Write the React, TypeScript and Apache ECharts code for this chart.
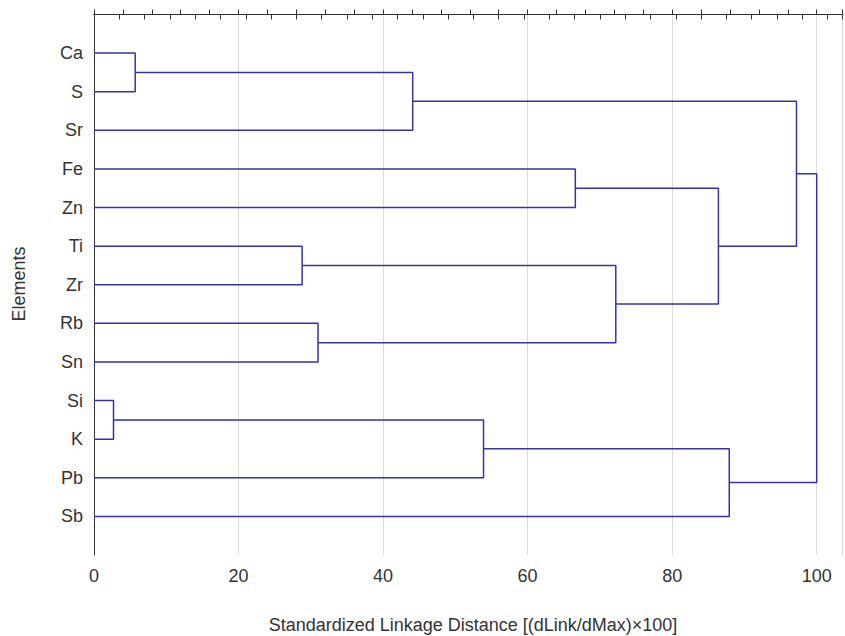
import React, { useEffect, useRef } from "react";
import * as echarts from "echarts";

// Leaves, top to bottom
const leaves = ["Ca", "S", "Sr", "Fe", "Zn", "Ti", "Zr", "Rb", "Sn", "Si", "K", "Pb", "Sb"];

// Merges (linkage): members are leaf names or cluster ids "c0".."c11"
const mergeA = ["Ca", "Si", "Ti", "Rb", "c0", "c1", "Fe", "c2", "c6", "c5", "c4", "c10"];
const mergeB = ["S", "K", "Zr", "Sn", "Sr", "Pb", "Zn", "c3", "c7", "Sb", "c8", "c9"];
const mergeHeight = [5.7, 2.7, 28.8, 31.0, 44.1, 53.9, 66.6, 72.2, 86.4, 87.9, 97.2, 100];

const xTicks = [0, 20, 40, 60, 80, 100];

const LINE_COLOR = "#3535A0";
const FONT = "'Liberation Sans', Arial, sans-serif";
const FS = 18;

function buildSeries() {
  const pos: Record<string, { x: number; y: number }> = {};
  leaves.forEach((l, i) => {
    pos[l] = { x: 0, y: i + 1 };
  });
  const series: any[] = [];
  mergeHeight.forEach((h, i) => {
    const a = pos[mergeA[i]];
    const b = pos[mergeB[i]];
    pos["c" + i] = { x: h, y: (a.y + b.y) / 2 };
    series.push({
      type: "line",
      xAxisIndex: 0,
      yAxisIndex: 0,
      symbol: "none",
      silent: true,
      lineStyle: { color: LINE_COLOR, width: 1.5 },
      data: [
        [a.x, a.y],
        [h, a.y],
        [h, b.y],
        [b.x, b.y],
      ],
    });
  });
  return series;
}

export default function App() {
  const ref = useRef<HTMLDivElement>(null);
  useEffect(() => {
    if (!ref.current) return;
    const chart = echarts.init(ref.current, undefined, { renderer: "svg" });
    chart.setOption({
      animation: false,
      backgroundColor: "#ffffff",
      grid: { left: 94, right: 0, top: 14.5, bottom: 81, containLabel: false },
      xAxis: [
        {
          type: "value",
          position: "bottom",
          min: 0,
          max: 103.5,
          interval: 20,
          axisLine: { show: true, lineStyle: { color: "#333", width: 1 } },
          axisTick: { show: true, inside: true, length: 5, lineStyle: { color: "#333" } },
          minorTick: { show: true, splitNumber: 5, length: 5, lineStyle: { color: "#333" } },
          splitLine: { show: true, lineStyle: { color: "#dcdcdc", width: 1 } },
          axisLabel: {
            color: "#333",
            fontFamily: FONT,
            fontSize: FS,
            margin: 12,
            formatter: (v: number) => (xTicks.indexOf(v) >= 0 ? String(v) : ""),
          },
        },
        {
          type: "value",
          position: "top",
          min: 0,
          max: 103.5,
          interval: 3.5,
          axisLine: { show: true, lineStyle: { color: "#333", width: 1 } },
          axisTick: { show: true, inside: true, length: 5, lineStyle: { color: "#333" } },
          splitLine: { show: false },
          axisLabel: { show: false },
        },
      ],
      yAxis: {
        type: "value",
        min: 0,
        max: 14,
        interval: 1,
        inverse: true,
        axisLine: { show: true, lineStyle: { color: "#333", width: 1 } },
        axisTick: { show: false },
        splitLine: { show: false },
        axisLabel: {
          color: "#333",
          fontFamily: FONT,
          fontSize: FS,
          margin: 11,
          formatter: (v: number) => leaves[v - 1] || "",
        },
      },
      graphic: [
        {
          type: "text",
          x: 19,
          y: 284,
          rotation: Math.PI / 2,
          style: {
            text: "Elements",
            fill: "#333",
            font: FS + "px " + FONT,
            align: "center",
            verticalAlign: "middle",
          },
        },
        {
          type: "text",
          x: 473,
          y: 625,
          style: {
            text: "Standardized Linkage Distance [(dLink/dMax)×100]",
            fill: "#333",
            font: FS + "px " + FONT,
            align: "center",
            verticalAlign: "middle",
          },
        },
      ],
      series: buildSeries(),
    });
    return () => chart.dispose();
  }, []);
  return (
    <div
      ref={ref}
      style={{ position: "absolute", left: 0, top: 0, width: 845, height: 636 }}
    />
  );
}
